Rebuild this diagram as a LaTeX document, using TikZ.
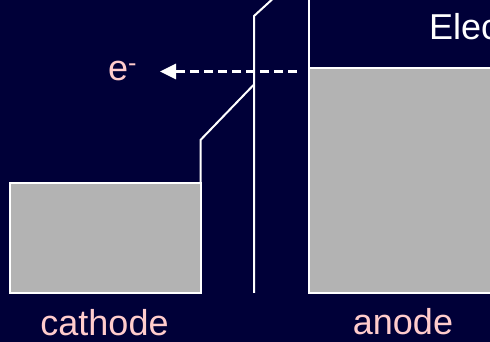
\documentclass[tikz,border=0pt]{standalone}
\usepackage{fontspec}
\setmainfont{Liberation Sans}
\usetikzlibrary{arrows.meta}
\definecolor{bgnavy}{RGB}{0,0,56}
\definecolor{metal}{RGB}{179,179,179}
\definecolor{pinklabel}{RGB}{255,204,204}
\tikzset{
  wire/.style={draw=white, line width=2pt},
  metalbox/.style={draw=white, fill=metal, line width=2pt, rectangle,
    anchor=south west, inner sep=0pt, outer sep=0pt},
  label/.style={text=pinklabel, inner sep=0pt, font=\fontsize{36}{40}\selectfont},
  title/.style={text=white, inner sep=0pt, font=\fontsize{36}{40}\selectfont},
  flow/.style={draw=white, line width=3pt, dash pattern=on 9pt off 5pt,
    -{Triangle[length=16pt,width=15pt]}}
}
\begin{document}
\begin{tikzpicture}[x=1pt,y=1pt]
  \useasboundingbox (0,0) rectangle (490,342);
  \clip (0,0) rectangle (490,342);
  \fill[bgnavy] (0,0) rectangle (490,342);

  % electrode blocks
  \node[metalbox, minimum width=191pt, minimum height=110.5pt] (cathodebox) at (9.5,48.5) {};
  \node[metalbox, minimum width=200pt, minimum height=224.5pt] (anodebox) at (309,49) {};

  % potential profile
  \coordinate (ck) at (200.5,202);
  \coordinate (cm) at (253.5,257);
  \coordinate (bb) at (254,49);
  \coordinate (bt) at (254,326);
  \coordinate (bx) at (277,347);
  \coordinate (at) at (309,345);
  \draw[wire] (cathodebox.north east) -- (ck) -- (cm);
  \draw[wire] (bb) -- (bt) -- (bx);
  \draw[wire] (anodebox.north west) -- (at);

  % labels
  \node[title, anchor=base west] (elec) at (429,302) {Elec};
  \node[label, anchor=base west] (electron) at (108,261) {e\textsuperscript{-}};
  \node[label, anchor=base] (cathode) at (104.5,6.5) {cathode};
  \node[label, anchor=base] (anode) at (403,7) {anode};

  % electron transfer
  \coordinate (estart) at (297,270.5);
  \coordinate (etip) at (160,270.5);
  \draw[flow] (estart) -- (etip);
\end{tikzpicture}
\end{document}
